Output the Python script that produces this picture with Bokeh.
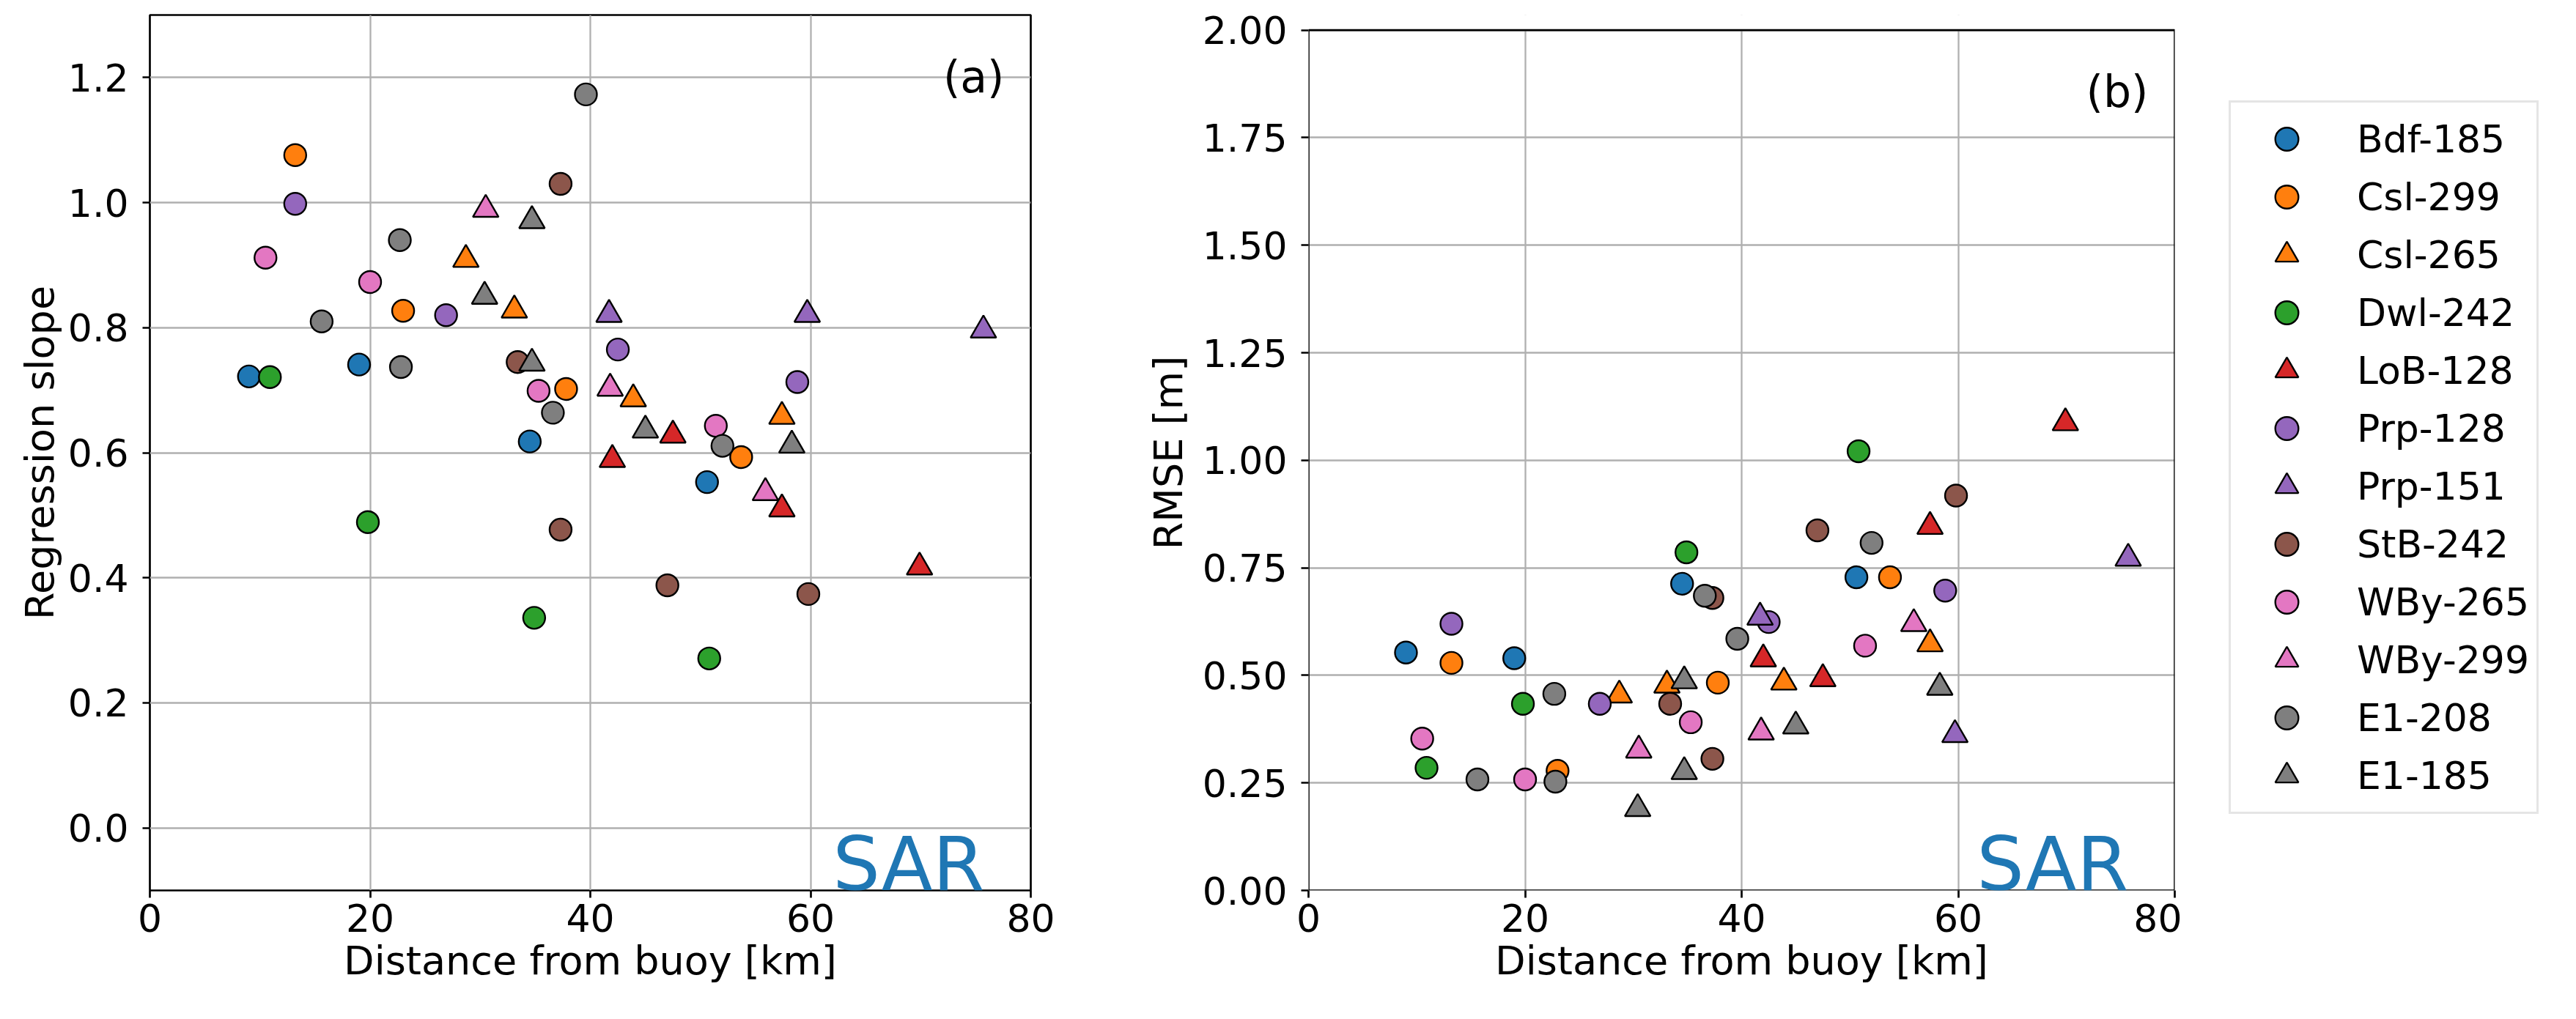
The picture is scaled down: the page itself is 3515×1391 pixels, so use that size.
from bokeh.plotting import figure
from bokeh.layouts import row
from bokeh.models import (FixedTicker, PrintfTickFormatter, Legend, LegendItem,
                          Label, Range1d, ColumnDataSource, BoxAnnotation)
from bokeh.embed import file_html
from bokeh.resources import INLINE

FONT = "DejaVu Sans"

# ---------------- data ----------------
x_ticks = [0, 20, 40, 60, 80]
slope_ticks = [0.0, 0.2, 0.4, 0.6, 0.8, 1.0, 1.2]
rmse_ticks = [0.0, 0.25, 0.5, 0.75, 1.0, 1.25, 1.5, 1.75, 2.0]

bdf185_dist = [9.0, 19.0, 34.5, 50.6]
bdf185_slope = [0.722, 0.741, 0.618, 0.553]
bdf185_rmse = [0.553, 0.540, 0.713, 0.728]

csl299_dist = [13.2, 23.0, 37.8, 53.7]
csl299_slope = [1.076, 0.827, 0.702, 0.593]
csl299_rmse = [0.529, 0.278, 0.483, 0.728]

csl265_dist = [28.7, 33.1, 43.9, 57.4]
csl265_slope = [0.909, 0.828, 0.686, 0.658]
csl265_rmse = [0.454, 0.477, 0.484, 0.573]

dwl242_dist = [10.9, 19.8, 34.9, 50.8]
dwl242_slope = [0.721, 0.489, 0.336, 0.271]
dwl242_rmse = [0.285, 0.434, 0.786, 1.021]

lob128_dist = [42.0, 47.5, 57.4, 69.9]
lob128_slope = [0.589, 0.628, 0.510, 0.417]
lob128_rmse = [0.538, 0.492, 0.846, 1.087]

prp128_dist = [13.2, 26.9, 42.5, 58.8]
prp128_slope = [0.998, 0.820, 0.765, 0.713]
prp128_rmse = [0.620, 0.434, 0.624, 0.697]

prp151_dist = [41.7, 59.7, 75.7]
prp151_slope = [0.821, 0.821, 0.796]
prp151_rmse = [0.635, 0.362, 0.772]

stb242_dist = [33.4, 37.3, 37.3, 47.0, 59.8]
stb242_slope = [0.745, 1.030, 0.477, 0.388, 0.374]
stb242_rmse = [0.434, 0.680, 0.306, 0.837, 0.918]

wby265_dist = [10.5, 20.0, 35.3, 51.4]
wby265_slope = [0.912, 0.873, 0.699, 0.643]
wby265_rmse = [0.353, 0.258, 0.391, 0.569]

wby299_dist = [30.5, 41.8, 55.9]
wby299_slope = [0.989, 0.703, 0.536]
wby299_rmse = [0.326, 0.368, 0.620]

e1208_dist = [15.6, 22.7, 22.8, 36.6, 39.6, 52.0]
e1208_slope = [0.810, 0.940, 0.737, 0.664, 1.173, 0.611]
e1208_rmse = [0.258, 0.457, 0.253, 0.685, 0.585, 0.808]

e1185_dist = [30.4, 34.7, 34.7, 45.0, 58.3]
e1185_slope = [0.850, 0.971, 0.743, 0.636, 0.612]
e1185_rmse = [0.190, 0.487, 0.276, 0.382, 0.472]

series_names = ["Bdf-185", "Csl-299", "Csl-265", "Dwl-242", "LoB-128", "Prp-128",
                "Prp-151", "StB-242", "WBy-265", "WBy-299", "E1-208", "E1-185"]
series_markers = ["circle", "circle", "triangle", "circle", "triangle", "circle",
                  "triangle", "circle", "circle", "triangle", "circle", "triangle"]
series_colors = ["#1f77b4", "#ff7f0e", "#ff7f0e", "#2ca02c", "#d62728", "#9467bd",
                 "#9467bd", "#8c564b", "#e377c2", "#e377c2", "#7f7f7f", "#7f7f7f"]
series_dist = [bdf185_dist, csl299_dist, csl265_dist, dwl242_dist, lob128_dist, prp128_dist,
               prp151_dist, stb242_dist, wby265_dist, wby299_dist, e1208_dist, e1185_dist]
series_slope = [bdf185_slope, csl299_slope, csl265_slope, dwl242_slope, lob128_slope, prp128_slope,
                prp151_slope, stb242_slope, wby265_slope, wby299_slope, e1208_slope, e1185_slope]
series_rmse = [bdf185_rmse, csl299_rmse, csl265_rmse, dwl242_rmse, lob128_rmse, prp128_rmse,
               prp151_rmse, stb242_rmse, wby265_rmse, wby299_rmse, e1208_rmse, e1185_rmse]

# ---------------- layout constants (pixels) ----------------
SPINE = 2.7
GRID = "#b0b0b0"
TOP, BOTTOM, FH = 20, 150, 1195     # same for every canvas so the row keeps them in place
B_GAP = 20.7                          # panel (b)'s box starts this much lower than (a)'s


def make_fig(yr, yticks, yfmt, ylabel, fw, bl, br, ylab_standoff):
    p = figure(frame_width=fw, frame_height=FH,
               x_range=Range1d(0, 80), y_range=Range1d(*yr),
               output_backend="svg", toolbar_location=None,
               min_border_left=bl, min_border_top=TOP,
               min_border_right=br, min_border_bottom=BOTTOM,
               background_fill_color="white", border_fill_color="white")
    p.outline_line_color = "black"
    p.outline_line_width = SPINE
    p.outline_line_alpha = 1.0

    p.xaxis.ticker = FixedTicker(ticks=x_ticks)
    p.yaxis.ticker = FixedTicker(ticks=yticks)
    p.yaxis.formatter = PrintfTickFormatter(format=yfmt)
    p.xaxis.formatter = PrintfTickFormatter(format="%d")
    p.xgrid.ticker = FixedTicker(ticks=x_ticks)
    p.ygrid.ticker = FixedTicker(ticks=yticks)
    for g in (p.xgrid, p.ygrid):
        g.grid_line_color = GRID
        g.grid_line_width = 2.3

    for ax in (p.xaxis, p.yaxis):
        ax.axis_line_color = None
        ax.major_tick_line_color = "black"
        ax.major_tick_line_width = SPINE
        ax.major_tick_out = 10
        ax.major_tick_in = 0
        ax.minor_tick_line_color = None
        ax.major_label_text_font = FONT
        ax.major_label_text_font_size = "52px"
        ax.major_label_text_color = "black"
        ax.axis_label_text_font = FONT
        ax.axis_label_text_font_size = "54px"
        ax.axis_label_text_font_style = "normal"
        ax.axis_label_text_color = "black"

    p.xaxis.axis_label = "Distance from buoy [km]"
    p.xaxis.major_label_standoff = 8
    p.xaxis.axis_label_standoff = 5
    p.yaxis.axis_label = ylabel
    p.yaxis.major_label_standoff = 19
    p.yaxis.axis_label_standoff = ylab_standoff
    return p


def add_points(p, which):
    rs, srcs = [], []
    for mk, col, d, vals in zip(series_markers, series_colors, series_dist, which):
        src = ColumnDataSource(dict(x=d, y=vals))
        size = 30 if mk == "circle" else 35
        r = p.scatter("x", "y", source=src, marker=mk, size=size,
                      fill_color=col, line_color="black", line_width=2.4)
        rs.append(r)
        srcs.append(src)
    return rs, srcs


def add_texts(p, tag, fw, top_gap):
    p.add_layout(Label(x=fw - 36, y=FH - top_gap - 84, x_units="screen", y_units="screen",
                       text=tag, text_align="right", text_baseline="alphabetic",
                       text_font=FONT, text_font_size="60px", text_color="black"))
    p.add_layout(Label(x=fw - 63, y=36, x_units="screen", y_units="screen",
                       text="SAR", text_align="right", text_baseline="alphabetic",
                       text_font=FONT, text_font_size="102px", text_color="#1f77b4"))


# panel (a)
FW_A = 1202
pa = make_fig((-0.1, 1.3), slope_ticks, "%.1f", "Regression slope",
              FW_A, bl=204, br=100, ylab_standoff=4)
add_points(pa, series_slope)
add_texts(pa, "(a)", FW_A, 0)

# panel (b): its box is 0..2.0 but sits lower than (a)'s, so the canvas range is a bit taller
FW_B = 1182
RMSE_TOP = 2.0
rmse_end = RMSE_TOP * FH / (FH - B_GAP)
pb = make_fig((0.0, rmse_end), rmse_ticks, "%.2f", "RMSE [m]",
              FW_B, bl=279, br=10, ylab_standoff=12)
pb.outline_line_color = None
pb.add_layout(BoxAnnotation(bottom=RMSE_TOP, fill_color="white", fill_alpha=1.0,
                            line_alpha=0.0, level="underlay"))
rb, srcs_b = add_points(pb, series_rmse)
pb.add_layout(BoxAnnotation(left=0, right=80, bottom=0, top=RMSE_TOP,
                            fill_alpha=0.0, line_color="black", line_width=SPINE,
                            line_alpha=1.0))
add_texts(pb, "(b)", FW_B, B_GAP)

# legend canvas: the renderers share panel (b)'s data, which lies outside this
# canvas' ranges, so only the legend is seen
pc = figure(frame_width=512, frame_height=FH,
            x_range=Range1d(-2, -1), y_range=Range1d(-2, -1),
            x_axis_type=None, y_axis_type=None,
            output_backend="svg", toolbar_location=None,
            min_border_left=0, min_border_top=TOP, min_border_right=0,
            min_border_bottom=BOTTOM,
            background_fill_color="white", border_fill_color="white")
pc.outline_line_color = None
pc.xgrid.visible = False
pc.ygrid.visible = False
legend_renderers = []
for mk, col, src in zip(series_markers, series_colors, srcs_b):
    legend_renderers.append(pc.scatter("x", "y", source=src, marker=mk, size=30,
                                       fill_color=col, line_color="black", line_width=2.4))

legend = Legend(items=[LegendItem(label=n, renderers=[r])
                       for n, r in zip(series_names, legend_renderers)],
                location=(64, 104))
legend.label_text_font = FONT
legend.label_text_font_size = "52px"
legend.label_text_color = "black"
legend.glyph_width = 132
legend.glyph_height = 79
legend.label_height = 79
legend.label_width = 200
legend.label_standoff = 30
legend.spacing = 0
legend.padding = 10
legend.margin = 0
legend.border_line_color = "#cccccc"
legend.border_line_width = 3
legend.background_fill_color = "white"
legend.background_fill_alpha = 0.8
pc.add_layout(legend)

layout = row(pa, pb, pc)
open("out.html", "w").write(file_html(layout, INLINE))
